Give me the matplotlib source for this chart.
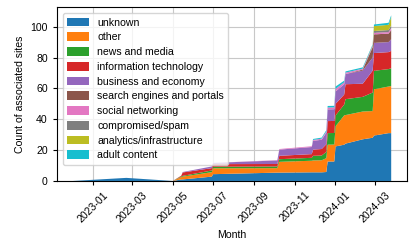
import matplotlib
matplotlib.use("Agg")
import matplotlib.pyplot as plt
import matplotlib.dates as mdates
import numpy as np
import pandas as pd

plt.rcParams['font.family'] = ['Liberation Sans', 'DejaVu Sans']
plt.rcParams['font.size'] = 7.6

# sample dates (steps are drawn as two close dates)
dates = pd.to_datetime([
    "2022-12-01", "2023-02-20", "2023-05-01", "2023-05-14", "2023-05-16",
    "2023-06-29", "2023-07-01", "2023-10-06", "2023-10-09", "2023-11-27",
    "2023-11-29", "2023-12-12", "2023-12-19", "2023-12-21", "2023-12-31",
    "2024-01-02", "2024-01-15", "2024-01-17", "2024-02-12", "2024-02-27",
    "2024-02-29", "2024-03-22", "2024-03-26",
])

categories = [
    "unknown", "other", "news and media", "information technology",
    "business and economy", "search engines and portals", "social networking",
    "compromised/spam", "analytics/infrastructure", "adult content",
]

unknown     = [0, 2, 0, 1.0, 1.0, 2.8, 4.4, 5.4, 5.4, 5.6, 5.6, 5.6, 5.8, 12.6, 12.6, 22.4, 23.5, 24.2, 27.0, 28.0, 29.4, 31.0, 31.0]
other       = [0, 0, 0, 1.5, 1.8, 2.9, 3.8, 2.9, 7.0, 7.5, 7.7, 7.8, 9.0, 10.9, 11.0, 13.1, 19.0, 18.5, 18.0, 17.3, 30.0, 30.2, 30.5]
news        = [0, 0, 0, 0.5, 0.5, 1.1, 1.0, 1.1, 1.7, 1.9, 3.0, 3.1, 4.0, 7.5, 7.5, 7.0, 7.0, 10.3, 9.5, 12.0, 12.0, 11.3, 11.5]
info_tech   = [0, 0, 0, 0.5, 2.2, 1.5, 1.7, 1.6, 2.2, 2.4, 4.0, 4.2, 5.0, 7.8, 7.8, 7.5, 6.5, 9.7, 8.5, 14.2, 11.5, 11.0, 11.3]
business    = [0, 0, 0, 0.0, 0.3, 1.1, 0.8, 2.3, 4.0, 4.6, 5.7, 6.0, 7.5, 7.6, 7.6, 8.0, 6.7, 6.6, 8.5, 8.5, 6.6, 6.5, 7.5]
search      = [0, 0, 0, 0, 0, 0, 0, 0, 0, 0, 0, 0, 0, 0, 0, 0, 0, 0, 0.7, 6.7, 5.5, 5.5, 6.0]
social      = [0, 0, 0, 0, 0, 0, 0, 0.2, 0.4, 0.5, 0.6, 0.7, 0.8, 1.2, 1.2, 1.7, 1.2, 0.9, 0.6, 0.6, 1.0, 1.0, 1.2]
compromised = [0, 0, 0, 0, 0, 0, 0, 0, 0, 0, 0, 0, 0, 0, 0, 0, 0, 0, 0, 0.3, 1.2, 1.3, 1.8]
analytics   = [0, 0, 0, 0, 0, 0, 0, 0, 0, 0, 0, 0, 0, 0, 0, 0, 0, 0, 0, 0.3, 3.2, 3.4, 5.4]
adult       = [0, 0, 0, 0, 0, 0, 0, 0, 0, 0, 0.6, 0.7, 0.8, 1.0, 1.0, 1.5, 1.1, 0.8, 0.8, 0.6, 1.0, 1.3, 1.2]

series = [unknown, other, news, info_tech, business, search, social,
          compromised, analytics, adult]

fig = plt.figure(figsize=(4.15, 2.4), dpi=100)
ax = fig.add_axes([0.137, 0.246, 0.844, 0.725])

ax.stackplot(dates, np.array(series), labels=categories)
ax.set_axisbelow(True)
ax.grid(True, color='#c8c8c8', linewidth=0.8)

ax.xaxis.set_major_locator(mdates.MonthLocator(bymonth=[1, 3, 5, 7, 9, 11]))
ax.xaxis.set_major_formatter(mdates.DateFormatter('%Y-%m'))
plt.setp(ax.get_xticklabels(), rotation=45)
ax.set_xlabel("Month")
ax.set_ylabel("Count of associated sites")
ax.tick_params(length=3, width=0.8)

ax.legend(loc='upper left', fontsize=7.6, labelspacing=0.45,
          handlelength=2.05, handleheight=0.9, handletextpad=0.8,
          borderaxespad=0.6)

fig.savefig("out.png", dpi=100)
